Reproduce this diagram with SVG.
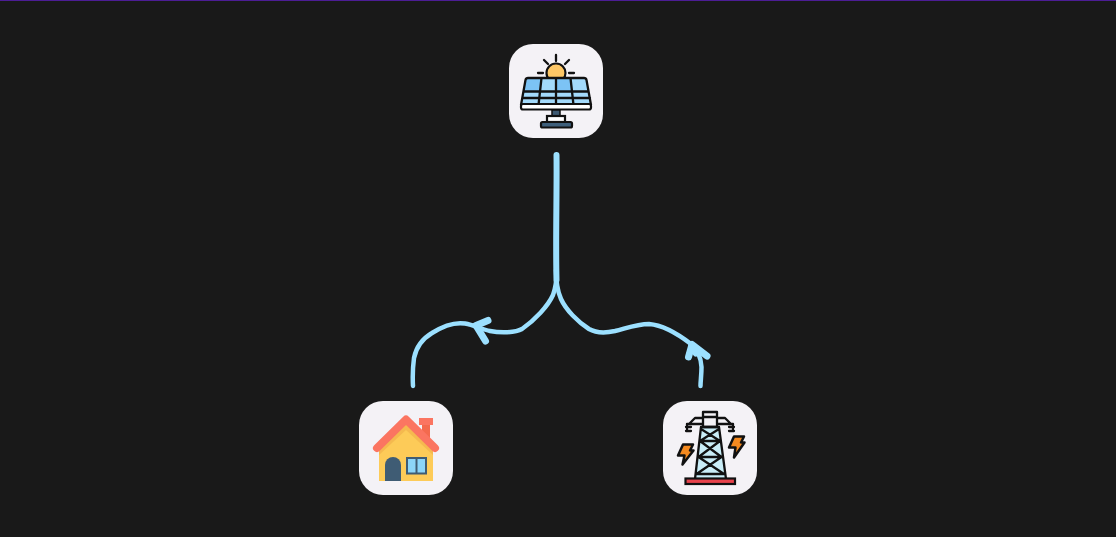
<svg xmlns="http://www.w3.org/2000/svg" width="1116" height="537" viewBox="0 0 1116 537">
<style>
.tile{fill:#f4f2f6}
.ln{fill:none;stroke:#111;stroke-width:2.300;stroke-linecap:round;stroke-linejoin:round}
.wire{fill:none;stroke:#9ce0ff;stroke-linecap:round;stroke-linejoin:round}
</style>
<rect width="1116" height="537" fill="#191919"/>
<rect width="1116" height="1" fill="#4c1d95"/>
<g id="connectors">
<path class="wire" stroke-width="4.500" d="M556.500 270C556.800 280 556 287 553 295C548 306 535 320 522 329C515 333 500 333 490 331C482 329.500 474 325 465 323.500C455 322 443 326 432 333C422 339 416 348 414 358C412.800 367 412.500 377 413 386"/>
<path class="wire" stroke-width="4.500" d="M556 270C556.500 282 557 290 561 299C566 310 578 322 589 329C596 333 606 333 615 331C627 328 637 324 649 324C662 325 678 334 691 344C698 350 701 358 701.500 367C701.500 375 700.500 381 700.500 386"/>
<path class="wire" stroke-width="6" d="M556.500 155C557 190 555.500 240 556.500 280"/>
<path class="wire" stroke-width="7" d="M488 320.500L476 325.500L485.500 341"/>
<path class="wire" stroke-width="7" d="M707 356L692 344.500L688.500 357"/>
<path class="wire" stroke-width="7" d="M692 346L696 353"/>
</g>
<g id="node-solar">
<rect class="tile" x="509" y="44" width="94" height="94" rx="24"/>
<circle cx="556" cy="73" r="9.500" fill="#fdc766" stroke="#111" stroke-width="2.200"/>
<path class="ln" d="M556 55V61M544 60L548 64M569 60L565 64M538 73H543M569 73H574"/>
<path d="M526 78H586L591 105H521z" fill="#a3dafb"/>
<path d="M526 78H541L539 91H524z M556 78H571L573 91H556z" fill="#7cc3f5"/>
<path class="ln" d="M528 78H584Q586 78 586.500 80L591 105H521L525.500 80Q526 78 528 78zM524 91.500H588M522.500 98H590M541.500 78L538.500 105M556 78V105M570.500 78L573.500 105"/>
<rect x="521" y="104" width="70" height="5.500" rx="2" fill="#fff" stroke="#111" stroke-width="2.200"/>
<rect x="552" y="110" width="8" height="6" fill="#3e5a72" stroke="#111" stroke-width="1.500"/>
<rect x="547" y="116" width="18" height="6" fill="#fff" stroke="#111" stroke-width="2.200"/>
<rect x="541" y="122" width="31" height="5.500" rx="1.500" fill="#3e5f7b" stroke="#111" stroke-width="2.200"/>
</g>
<g id="node-house">
<rect class="tile" x="359" y="401" width="94" height="94" rx="24"/>
<rect x="422" y="420" width="8" height="20" fill="#f46a4e"/>
<rect x="419" y="418" width="14" height="7" fill="#fb7561"/>
<path d="M379 449L406 423L433 449V481H379z" fill="#fdcb58"/>
<path d="M379 449L406 423L433 449V455L406 430L379 455z" fill="#f5b94f"/>
<path d="M377 448L406 419.500L435 448" fill="none" stroke="#fb7561" stroke-width="8" stroke-linecap="round" stroke-linejoin="round"/>
<path d="M385 481V465a8 8 0 0 1 16 0V481z" fill="#3f5c74"/>
<rect x="406" y="457" width="21" height="17.500" fill="#3f5c74"/>
<rect x="408" y="459" width="7.500" height="13.500" fill="#8cd5f8"/>
<rect x="417.500" y="459" width="7.500" height="13.500" fill="#8cd5f8"/>
</g>
<g id="node-tower">
<rect class="tile" x="663" y="401" width="94" height="94" rx="24"/>
<path d="M701 427H719L726 479H695z" fill="#c9edf7"/>
<path class="ln" d="M701 427L695 479M719 427L726 479M701 427H719M700 441H720M698.500 457H721.500M696.500 474H724M701 429L720 441M719 429L700 441M700 441L721.500 457M720 441L698.500 457M698.500 457L724 474M721.500 457L696.500 474"/>
<path class="ln" d="M703 412H717V427H703zM703 417H717M703 418H695L689 424H687V431M717 418H725L731 424H733V431M689 424H703M717 424H731M686 427H691M686 431H691M729 427H734M729 431H734"/>
<rect x="685.500" y="478.500" width="49.500" height="5.500" fill="#e8434c" stroke="#111" stroke-width="2.200"/>
<path d="M683 444.500H693L690 450.500H693.500L682.500 464.500L684.500 455.500H678z" fill="#f58a1f" stroke="#111" stroke-width="2.500" stroke-linejoin="round"/>
<path d="M734 436.500H744L741 442.500H744.500L734 457.500L735.500 447.500H729z" fill="#f58a1f" stroke="#111" stroke-width="2.500" stroke-linejoin="round"/>
</g>
</svg>
